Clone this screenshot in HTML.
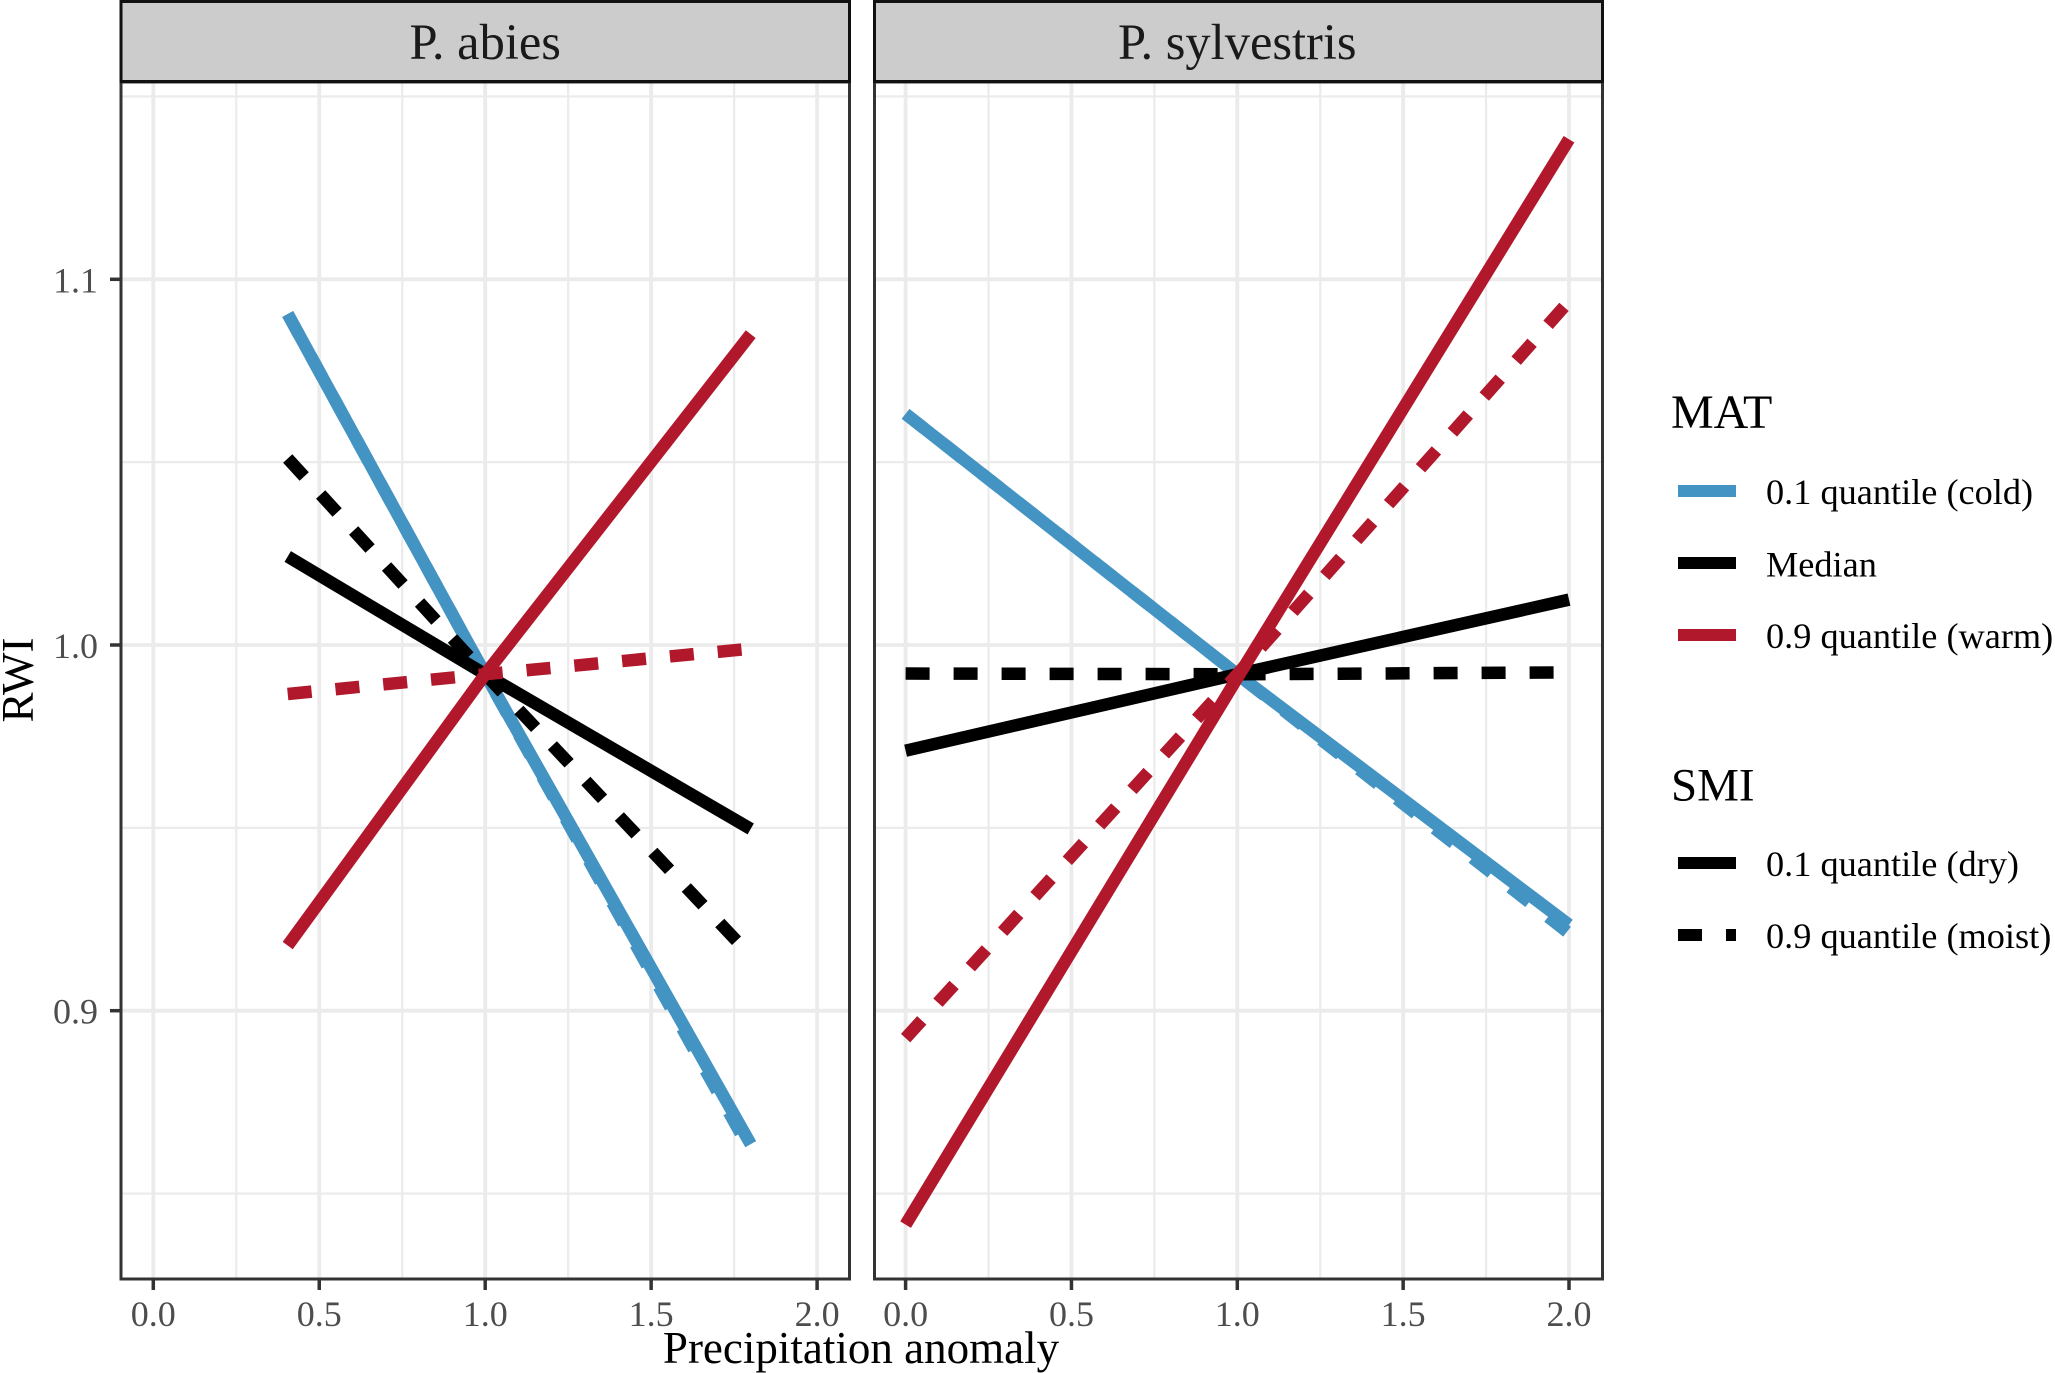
<!DOCTYPE html>
<html lang="en">
<head>
<meta charset="utf-8">
<title>RWI vs precipitation anomaly</title>
<style>
html,body{margin:0;padding:0;background:#fff;}
svg{display:block;font-family:"Liberation Serif",serif;}
</style>
</head>
<body>
<svg id="chart" xmlns="http://www.w3.org/2000/svg" width="2055" height="1373" viewBox="0 0 2055 1373">
  <rect width="2055" height="1373" fill="#fff"/>
  <g id="panels"></g>
  <text x="861" y="1363" font-size="45" text-anchor="middle" fill="#000">Precipitation anomaly</text>
  <text transform="translate(33,680) rotate(-90)" font-size="45" text-anchor="middle" fill="#000">RWI</text>
  <g id="legend">
    <text x="1671" y="428" font-size="48" fill="#000">MAT</text>
    <rect x="1678" y="485" width="58" height="12" fill="#4393c3"/>
    <text x="1766" y="504" font-size="36.3" fill="#000">0.1 quantile (cold)</text>
    <rect x="1678" y="557" width="58" height="12" fill="#000"/>
    <text x="1766" y="576.5" font-size="36.3" fill="#000">Median</text>
    <rect x="1678" y="629" width="58" height="12" fill="#b2182b"/>
    <text x="1766" y="648" font-size="36.3" fill="#000">0.9 quantile (warm)</text>
    <text x="1671" y="800.5" font-size="47" fill="#000">SMI</text>
    <rect x="1678" y="857" width="58" height="12" fill="#000"/>
    <text x="1766" y="876" font-size="36.3" fill="#000">0.1 quantile (dry)</text>
    <rect x="1678" y="929" width="24" height="12" fill="#000"/>
    <rect x="1726" y="929" width="10" height="12" fill="#000"/>
    <text x="1766" y="948" font-size="36.3" fill="#000">0.9 quantile (moist)</text>
  </g>
</svg>
<script>
// Tick values and labels
const xTicks = [0, 0.5, 1, 1.5, 2];
const xTickLabels = ["0.0", "0.5", "1.0", "1.5", "2.0"];
const xMinorTicks = [0.25, 0.75, 1.25, 1.75];
const yTicks = [1.1, 1.0, 0.9];
const yTickLabels = ["1.1", "1.0", "0.9"];
const yMinorTicks = [1.15, 1.05, 0.95, 0.85];

// P. abies
const abiesPrecip = [0.405, 1.0, 1.8];
const abiesColdDry = [1.0905, 0.992, 0.8635];
const abiesColdMoist = [1.0905, 0.992, 0.8615];
const abiesMedianMoist = [1.051, 0.992, 0.915];
const abiesMedianDry = [1.0242, 0.992, 0.9497];
const abiesWarmMoist = [0.9866, 0.992, 0.999];
const abiesWarmDry = [0.9178, 0.992, 1.085];

// P. sylvestris
const sylvestrisPrecip = [0.0, 1.0, 2.0];
const sylvestrisColdDry = [1.0632, 0.992, 0.9235];
const sylvestrisColdMoist = [1.0632, 0.992, 0.9212];
const sylvestrisMedianMoist = [0.9922, 0.992, 0.9925];
const sylvestrisMedianDry = [0.9711, 0.992, 1.0124];
const sylvestrisWarmMoist = [0.8925, 0.992, 1.094];
const sylvestrisWarmDry = [0.8415, 0.991, 1.1383];

const panelNames = ["P. abies", "P. sylvestris"];
const NS = "http://www.w3.org/2000/svg";
const root = document.getElementById("panels");

function yScale(v) { return 645 - (v - 1) * 3657; }

function mk(parent, tag, attrs) {
  const el = document.createElementNS(NS, tag);
  for (const k in attrs) el.setAttribute(k, attrs[k]);
  parent.appendChild(el);
  return el;
}

function drawPanel(cfg) {
  const xScale = function (v) { return cfg.x0 + v * cfg.unit; };
  const g = mk(root, "g", {});
  
  

  const bg = mk(g, "rect", { x: cfg.left, y: 82, width: cfg.right - cfg.left, height: 1197, fill: "#fff" });
  
  

  xMinorTicks.forEach(function (v) {
    const l = mk(g, "line", { x1: xScale(v), x2: xScale(v), y1: 82, y2: 1279, stroke: "#ebebeb", "stroke-width": 2.2 });
    
    
  });
  yMinorTicks.forEach(function (v) {
    const l = mk(g, "line", { x1: cfg.left, x2: cfg.right, y1: yScale(v), y2: yScale(v), stroke: "#ebebeb", "stroke-width": 2.2 });
    
    
  });
  xTicks.forEach(function (v) {
    const l = mk(g, "line", { x1: xScale(v), x2: xScale(v), y1: 82, y2: 1279, stroke: "#ebebeb", "stroke-width": 3.8 });
    
    
  });
  yTicks.forEach(function (v) {
    const l = mk(g, "line", { x1: cfg.left, x2: cfg.right, y1: yScale(v), y2: yScale(v), stroke: "#ebebeb", "stroke-width": 3.8 });
    
    
  });

  cfg.series.forEach(function (s) {
    const pts = cfg.precip.map(function (p, i) { return xScale(p) + "," + yScale(s.values[i]); }).join(" ");
    const attrs = { points: pts, fill: "none", stroke: s.color, "stroke-width": 12.5, "stroke-linejoin": "round" };
    if (s.dashed) attrs["stroke-dasharray"] = s.dash || "24 24";
    const line = mk(g, "polyline", attrs);
    
    
  });

  const border = mk(g, "rect", { x: cfg.left, y: 82, width: cfg.right - cfg.left, height: 1197, fill: "none", stroke: "#333", "stroke-width": 3 });
  
  

  const strip = mk(g, "rect", { x: cfg.left, y: 1.5, width: cfg.right - cfg.left, height: 80, fill: "#ccc", stroke: "#111", "stroke-width": 3 });
  
  

  const title = mk(g, "text", { x: xScale(1), y: 59, "font-size": 50.5, "text-anchor": "middle", fill: "#1a1a1a" });
  title.textContent = cfg.title;
  
  

  xTicks.forEach(function (v, i) {
    const t = mk(g, "line", { x1: xScale(v), x2: xScale(v), y1: 1279, y2: 1290, stroke: "#333", "stroke-width": 3.5 });
    
    
    const lab = mk(g, "text", { x: xScale(v), y: 1326, "font-size": 36, "text-anchor": "middle", fill: "#4d4d4d" });
    lab.textContent = xTickLabels[i];
    
    
  });

  if (cfg.showY) {
    yTicks.forEach(function (v, i) {
      const t = mk(g, "line", { x1: cfg.left - 11, x2: cfg.left, y1: yScale(v), y2: yScale(v), stroke: "#333", "stroke-width": 3.5 });
      
      
      const lab = mk(g, "text", { x: 98, y: yScale(v) + 13, "font-size": 36, "text-anchor": "end", fill: "#4d4d4d" });
      lab.textContent = yTickLabels[i];
      
      
    });
  }
}

drawPanel({
  slug: "abies", title: panelNames[0], left: 121, right: 849.5, x0: 153.3, unit: 331.9, showY: true,
  precip: abiesPrecip,
  series: [
    { name: "cold-moist", values: abiesColdMoist, color: "#4393c3", dashed: true },
    { name: "cold-dry", values: abiesColdDry, color: "#4393c3", dashed: false },
    { name: "median-moist", values: abiesMedianMoist, color: "#000", dashed: true, dash: "24.4 24.4" },
    { name: "median-dry", values: abiesMedianDry, color: "#000", dashed: false },
    { name: "warm-moist", values: abiesWarmMoist, color: "#b2182b", dashed: true },
    { name: "warm-dry", values: abiesWarmDry, color: "#b2182b", dashed: false }
  ]
});

drawPanel({
  slug: "sylvestris", title: panelNames[1], left: 874.5, right: 1602.5, x0: 905.6, unit: 331.7, showY: false,
  precip: sylvestrisPrecip,
  series: [
    { name: "cold-moist", values: sylvestrisColdMoist, color: "#4393c3", dashed: true },
    { name: "cold-dry", values: sylvestrisColdDry, color: "#4393c3", dashed: false },
    { name: "median-moist", values: sylvestrisMedianMoist, color: "#000", dashed: true },
    { name: "median-dry", values: sylvestrisMedianDry, color: "#000", dashed: false },
    { name: "warm-moist", values: sylvestrisWarmMoist, color: "#b2182b", dashed: true },
    { name: "warm-dry", values: sylvestrisWarmDry, color: "#b2182b", dashed: false }
  ]
});
</script>
</body>
</html>
